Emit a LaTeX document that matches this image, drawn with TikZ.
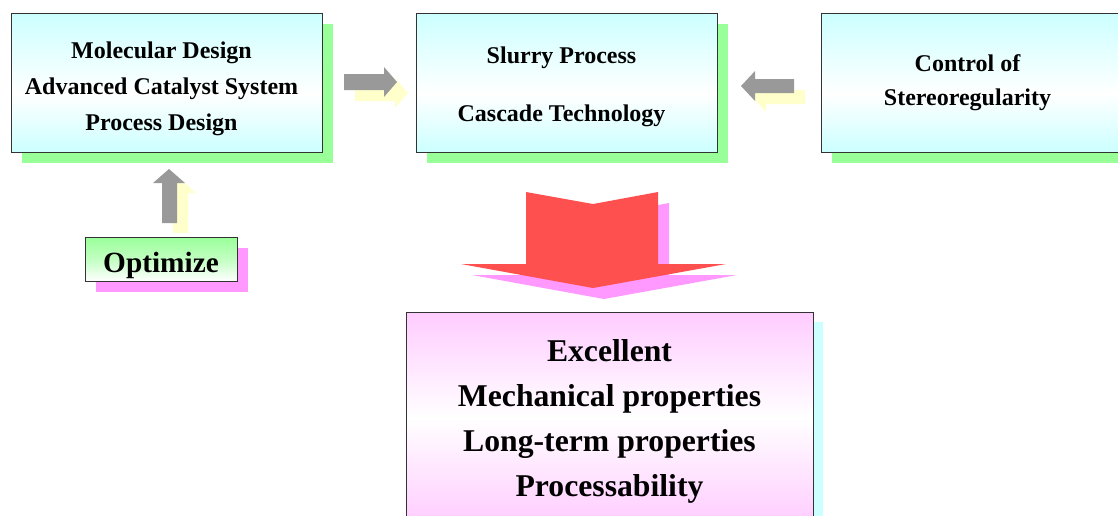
\documentclass[tikz,border=0pt]{standalone}
\usepackage{fontspec}
\setmainfont{Liberation Serif}
\usetikzlibrary{shadows}

\definecolor{boxcyan}{HTML}{CCFFFF}
\definecolor{boxpink}{HTML}{FFCCFF}
\definecolor{boxgreen}{HTML}{99FF99}
\definecolor{shadowgreen}{HTML}{99FF99}
\definecolor{shadowpink}{HTML}{FF99FF}
\definecolor{shadowyellow}{HTML}{FFFFCC}
\definecolor{arrowgray}{HTML}{999999}
\definecolor{arrowred}{HTML}{FF5050}
\definecolor{edgegray}{HTML}{333333}

% cyan - white - cyan band, bottom to top
\pgfdeclareverticalshading{cyanband}{100bp}{color(0bp)=(boxcyan); color(25bp)=(boxcyan); color(46bp)=(white); color(75bp)=(boxcyan); color(100bp)=(boxcyan)}
% pink - white - pink band
\pgfdeclareverticalshading{pinkband}{100bp}{color(0bp)=(boxpink); color(25bp)=(boxpink); color(50bp)=(white); color(75bp)=(boxpink); color(100bp)=(boxpink)}
% green on top fading to white
\pgfdeclareverticalshading{greenfade}{100bp}{color(0bp)=(white); color(25bp)=(white); color(50bp)=(white!40!boxgreen); color(75bp)=(boxgreen); color(100bp)=(boxgreen)}

% a centred stack of lines, drawn moved by (#1,#2) while keeping its size
\newcommand{\linestack}[3]{\hspace*{#1}\raisebox{#2}[\height][\depth]{\begin{tabular}{@{}c@{}}#3\end{tabular}}}

\tikzset{
  stagebox/.style={draw=edgegray, line width=0.9pt, shade, shading=cyanband,
    inner sep=0pt,
    font=\fontsize{24}{36}\selectfont\bfseries,
    drop shadow={shadow xshift=11pt, shadow yshift=-11pt, fill=shadowgreen, opacity=1}},
  optbox/.style={draw=edgegray, line width=0.9pt, shade, shading=greenfade,
    inner sep=0pt,
    font=\fontsize{29.3}{34}\selectfont\bfseries,
    drop shadow={shadow xshift=11pt, shadow yshift=-11pt, fill=shadowpink, opacity=1}},
  resultbox/.style={draw=edgegray, line width=0.9pt, shade, shading=pinkband,
    inner sep=0pt,
    font=\fontsize{31.7}{44.7}\selectfont\bfseries,
    drop shadow={shadow xshift=10pt, shadow yshift=-10pt, fill=boxcyan, opacity=1}},
  grayblock/.style={fill=arrowgray},
  yellowblock/.style={fill=shadowyellow},
  redblock/.style={fill=arrowred},
  pinkblock/.style={fill=shadowpink},
}

\begin{document}
\begin{tikzpicture}[x=1pt,y=-1pt]
\useasboundingbox (0,0) rectangle (1118,515);
\clip (0,0) rectangle (1118,515);

% stage boxes
\node[stagebox, minimum width=311pt, minimum height=139pt] (design) at (166.5,82.5)
  {\linestack{-10pt}{-5pt}{Molecular Design\\Advanced Catalyst System\\Process Design}};
\node[stagebox, minimum width=301pt, minimum height=139pt] (slurry) at (566.5,82.5)
  {\linestack{-10pt}{-3pt}{Slurry Process\\[22pt]Cascade Technology}};
\node[stagebox, minimum width=311pt, minimum height=139pt,
      font=\fontsize{24}{34}\selectfont\bfseries] (stereo) at (976.5,82.5)
  {\linestack{-18pt}{1pt}{Control of\\Stereoregularity}};

% optimize tag
\node[optbox, minimum width=152pt, minimum height=44pt] (opt) at (161,259)
  {\raisebox{-6pt}[\height][\depth]{Optimize}};

% result box
\node[resultbox, minimum width=407pt, minimum height=212pt] (result) at (609.5,418)
  {\linestack{0pt}{-2pt}{Excellent\\Mechanical properties\\Long-term properties\\Processability}};

% block arrow from design to slurry
\fill[yellowblock] (355,85) -- (395,85) -- (395,78) -- (408,93) -- (395,108) -- (395,101) -- (355,101) -- cycle;
\fill[grayblock] (344,74) -- (384,74) -- (384,67) -- (397,82) -- (384,97) -- (384,90) -- (344,90) -- cycle;

% block arrow from stereo to slurry
\fill[yellowblock] (752,97) -- (766,82) -- (766,90) -- (805,90) -- (805,104) -- (766,104) -- (766,112) -- cycle;
\fill[grayblock] (741,86) -- (755,71) -- (755,79) -- (794,79) -- (794,93) -- (755,93) -- (755,101) -- cycle;

% block arrow from optimize up to design
\fill[yellowblock] (180,179) -- (196,193) -- (188,193) -- (188,233) -- (173,233) -- (173,193) -- (164,193) -- cycle;
\fill[grayblock] (169,169) -- (185,183) -- (177,183) -- (177,223) -- (162,223) -- (162,183) -- (153,183) -- cycle;

% large arrow down to the result
\fill[pinkblock] (537,203) -- (604,215) -- (669,203) -- (669,275) -- (737,275) -- (604,299) -- (472,275) -- (537,275) -- cycle;
\fill[redblock] (526,192) -- (593,204) -- (658,192) -- (658,264) -- (726,264) -- (593,288) -- (461,264) -- (526,264) -- cycle;
\end{tikzpicture}
\end{document}
